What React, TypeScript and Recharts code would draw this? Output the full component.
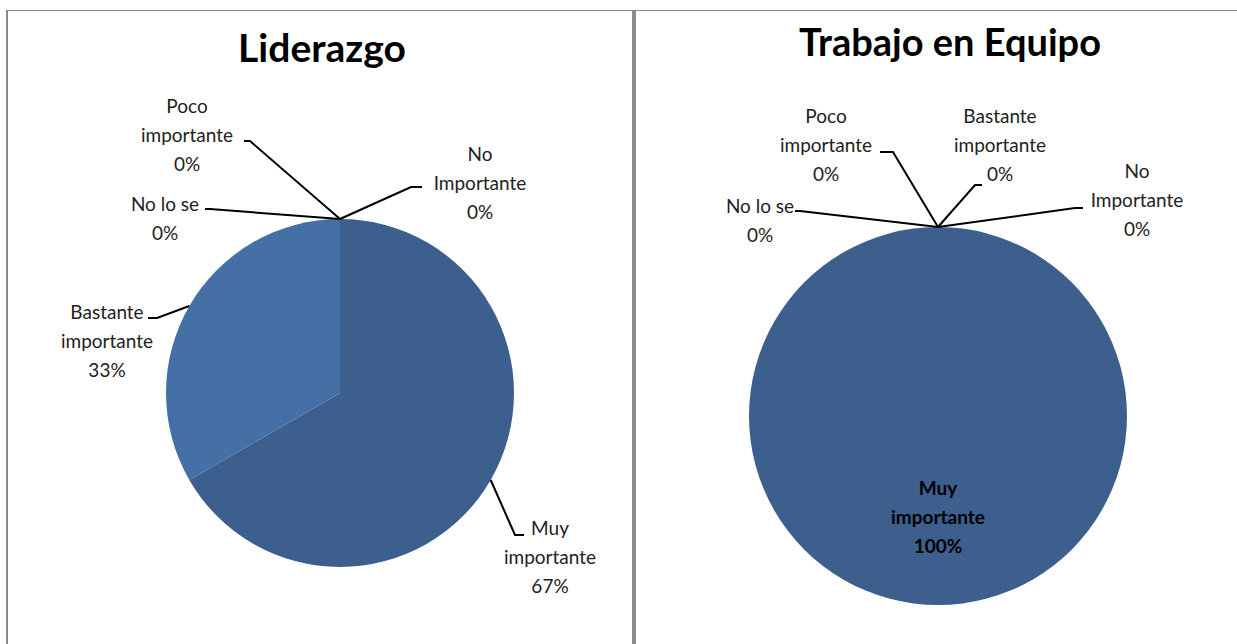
import { PieChart, Pie, Cell } from 'recharts';

const categories = ['Muy importante', 'Bastante importante', 'No lo se', 'Poco importante', 'No Importante'];
const liderazgoValues = [2, 1, 0, 0, 0];
const liderazgoPercents = ['67%', '33%', '0%', '0%', '0%'];
const equipoValues = [3, 0, 0, 0, 0];
const equipoPercents = ['100%', '0%', '0%', '0%', '0%'];
const titles = ['Liderazgo', 'Trabajo en Equipo'];

const sliceColors = ['#3D5F8E', '#4470A6', '#4F81BD', '#4F81BD', '#4F81BD'];
const FONT = 'Lato, "Open Sans", sans-serif';
const RAD = Math.PI / 180;
const LINE = 29;
const NO_MARGIN = { top: 0, right: 0, bottom: 0, left: 0 };

// where each outside label sits, relative to the pie centre
type Place = { elbow: [number, number]; end: [number, number]; text: [number, number] };
const leftPlaces: Record<string, Place> = {
  'Muy importante': { elbow: [175, 142], end: [184, 142], text: [210, 134] },
  'Bastante importante': { elbow: [-183, -75], end: [-192, -75], text: [-233, -82] },
  'No lo se': { elbow: [-130, -184], end: [-135, -184], text: [-175, -190] },
  'Poco importante': { elbow: [-90, -252], end: [-96, -252], text: [-153, -288] },
  'No Importante': { elbow: [71, -206], end: [82, -206], text: [140, -240] },
};
const rightPlaces: Record<string, Place> = {
  'Bastante importante': { elbow: [37, -231], end: [44, -231], text: [62, -301] },
  'No lo se': { elbow: [-138, -205], end: [-143, -205], text: [-178, -211] },
  'Poco importante': { elbow: [-45, -264], end: [-58, -264], text: [-112, -301] },
  'No Importante': { elbow: [137, -208], end: [145, -208], text: [199, -246] },
};

function splitName(name: string, pct: string) {
  if (name === 'No lo se') return ['No lo se', pct];
  if (name === 'No Importante') return ['No', 'Importante', pct];
  const [a, b] = name.split(' ');
  return [a, b, pct];
}

function makeLabel(places: Record<string, Place>, percents: string[], insideIdx: number) {
  return (props: any) => {
    const { cx, cy, midAngle, outerRadius, index, name } = props;
    const lines = splitName(name, percents[index]);
    if (index === insideIdx) {
      const x = cx + outerRadius * 0.53 * Math.cos(-midAngle * RAD);
      const y = cy + outerRadius * 0.53 * Math.sin(-midAngle * RAD);
      return (
        <text x={x} y={y - LINE} textAnchor="middle" fontFamily={FONT} fontSize={19} fontWeight={700} fill="#000">
          {lines.map((l, i) => (
            <tspan key={i} x={x} dy={i === 0 ? 0 : LINE} dominantBaseline="central">{l}</tspan>
          ))}
        </text>
      );
    }
    const p = places[name];
    if (!p) return null;
    const ax = cx + outerRadius * Math.cos(-midAngle * RAD);
    const ay = cy + outerRadius * Math.sin(-midAngle * RAD);
    const tx = cx + p.text[0];
    const ty = cy + p.text[1];
    return (
      <g>
        <polyline
          points={`${ax},${ay} ${cx + p.elbow[0]},${cy + p.elbow[1]} ${cx + p.end[0]},${cy + p.end[1]}`}
          fill="none"
          stroke="#000"
          strokeWidth={2}
        />
        <text x={tx} y={ty} textAnchor="middle" fontFamily={FONT} fontSize={19} fill="#222">
          {lines.map((l, i) => (
            <tspan key={i} x={tx} dy={i === 0 ? 0 : LINE} dominantBaseline="central">{l}</tspan>
          ))}
        </text>
      </g>
    );
  };
}

export default function App() {
  const leftData = categories.map((name, i) => ({ name, value: liderazgoValues[i] }));
  const rightData = categories.map((name, i) => ({ name, value: equipoValues[i] }));

  return (
    <div style={{ position: 'absolute', left: 0, top: 0, width: 1237, height: 644, background: '#fff', overflow: 'hidden' }}>
      <div style={{ position: 'absolute', left: 6, top: 10, width: 1231, height: 1, background: '#8a8a8a' }} />
      <div style={{ position: 'absolute', left: 6, top: 10, width: 2, height: 640, background: '#8a8a8a' }} />
      <div style={{ position: 'absolute', left: 632, top: 10, width: 4, height: 640, background: '#8a8a8a' }} />

      <div style={{ position: 'absolute', left: 8, top: 24, width: 628, textAlign: 'center', fontFamily: FONT, fontWeight: 700, fontSize: 39, color: '#000' }}>
        {titles[0]}
      </div>
      <div style={{ position: 'absolute', left: 636, top: 18, width: 628, textAlign: 'center', fontFamily: FONT, fontWeight: 700, fontSize: 38, color: '#000' }}>
        {titles[1]}
      </div>

      <div style={{ position: 'absolute', left: 0, top: 0 }}>
        <PieChart width={632} height={644} margin={NO_MARGIN}>
          <Pie
            data={leftData}
            dataKey="value"
            nameKey="name"
            cx={340}
            cy={393}
            outerRadius={174}
            startAngle={90}
            endAngle={-270}
            stroke="none"
            labelLine={false}
            label={makeLabel(leftPlaces, liderazgoPercents, -1)}
            isAnimationActive={false}
          >
            {leftData.map((d, i) => (
              <Cell key={d.name} fill={sliceColors[i]} />
            ))}
          </Pie>
        </PieChart>
      </div>
      <div style={{ position: 'absolute', left: 636, top: 0 }}>
        <PieChart width={601} height={644} margin={NO_MARGIN}>
          <Pie
            data={rightData}
            dataKey="value"
            nameKey="name"
            cx={302}
            cy={416}
            outerRadius={189}
            startAngle={90}
            endAngle={-270}
            stroke="none"
            labelLine={false}
            label={makeLabel(rightPlaces, equipoPercents, 0)}
            isAnimationActive={false}
          >
            {rightData.map((d, i) => (
              <Cell key={d.name} fill={sliceColors[i]} />
            ))}
          </Pie>
        </PieChart>
      </div>
    </div>
  );
}
